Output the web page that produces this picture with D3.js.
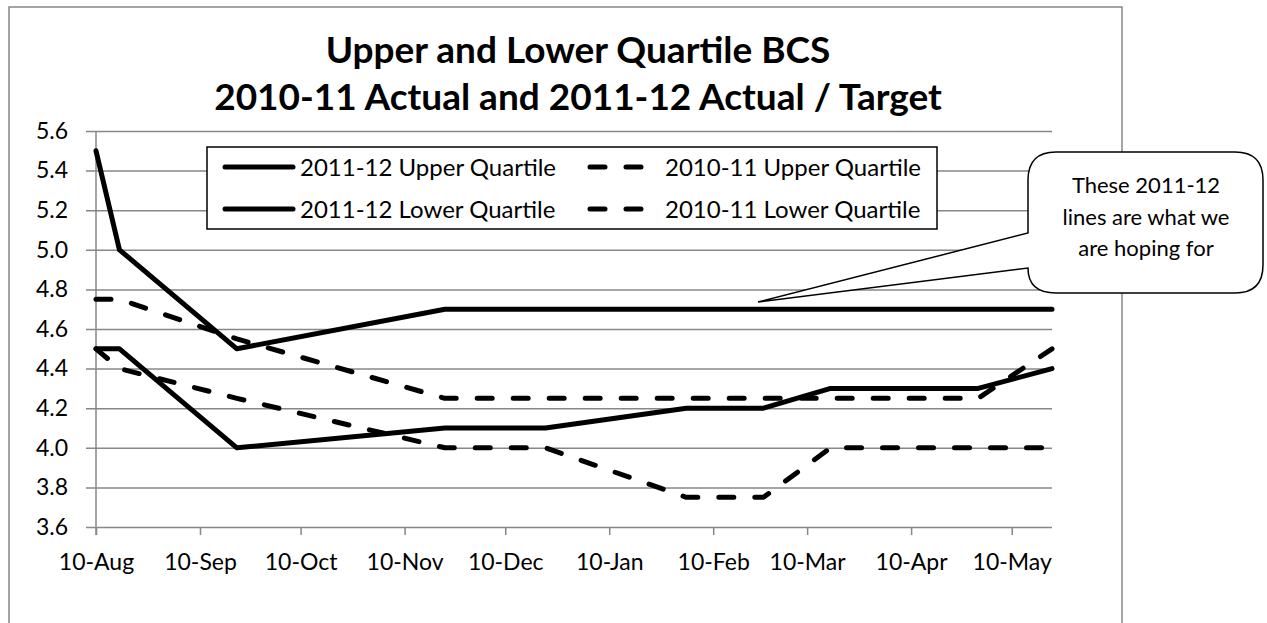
<!DOCTYPE html>
<html>
<head>
<meta charset="utf-8">
<script src="https://cdn.jsdelivr.net/npm/d3@7"></script>
<style>
  body { margin: 0; background: #fff; }
  svg { display: block; font-family: Lato, "Open Sans", sans-serif; }
</style>
</head>
<body>
<svg id="chart" width="1267" height="623"></svg>
<script>
// dates of the readings (dd-mmm axis, ticks on the 10th)
var dates = ["2010-08-10", "2010-08-17", "2010-09-21", "2010-11-22", "2010-12-22",
             "2011-02-02", "2011-02-25", "2011-03-17", "2011-04-30", "2011-05-22"];
var upper1112 = [5.5, 5.0, 4.5, 4.7, 4.7, 4.7, 4.7, 4.7, 4.7, 4.7];
var lower1112 = [4.5, 4.5, 4.0, 4.1, 4.1, 4.2, 4.2, 4.3, 4.3, 4.4];
var upper1011 = [4.75, 4.75, 4.55, 4.25, 4.25, 4.25, 4.25, 4.25, 4.25, 4.5];
var lower1011 = [4.5, 4.4, 4.25, 4.0, 4.0, 3.75, 3.75, 4.0, 4.0, 4.0];
var seriesNames = ["2011-12 Upper Quartile", "2010-11 Upper Quartile",
                   "2011-12 Lower Quartile", "2010-11 Lower Quartile"];
var tickDates = ["2010-08-10", "2010-09-10", "2010-10-10", "2010-11-10", "2010-12-10",
                 "2011-01-10", "2011-02-10", "2011-03-10", "2011-04-10", "2011-05-10"];
var titleLines = ["Upper and Lower Quartile BCS", "2010-11 Actual and 2011-12 Actual / Target"];
var calloutLines = ["These 2011-12", "lines are what we", "are hoping for"];

var parse = d3.timeParse("%Y-%m-%d");
var svg = d3.select("#chart");
var grey = "#878787";

var plotLeft = 96, plotRight = 1052, plotTop = 131, plotBottom = 527;

var x = d3.scaleTime()
    .domain([parse(dates[0]), parse(dates[dates.length - 1])])
    .range([plotLeft, plotRight]);
var y = d3.scaleLinear()
    .domain([3.6, 5.6])
    .range([plotBottom, plotTop]);

// chart frame
svg.append("rect")
    .attr("x", 9).attr("y", 7)
    .attr("width", 1113).attr("height", 640)
    .attr("fill", "#fff")
    .attr("stroke", grey)
    .attr("stroke-width", 1.5);

// title
svg.append("g").selectAll("text")
    .data(titleLines)
    .enter().append("text")
    .attr("x", 578)
    .attr("y", function (d, i) { return 63 + i * 47; })
    .attr("text-anchor", "middle")
    .style("font-size", "37px")
    .style("font-weight", "700")
    .text(function (d) { return d; });

// y axis with gridlines
var yAxis = svg.append("g")
    .attr("transform", "translate(" + plotLeft + ",0)")
    .call(d3.axisLeft(y)
        .tickValues(d3.range(3.6, 5.61, 0.2))
        .tickSize(-(plotRight - plotLeft))
        .tickFormat(d3.format(".1f")));
yAxis.select(".domain").remove();
yAxis.selectAll(".tick line")
    .attr("x1", -10)
    .attr("stroke", grey)
    .attr("stroke-width", 1.5);
yAxis.selectAll(".tick text")
    .attr("x", -28)
    .attr("fill", "#000")
    .style("font-size", "23px")
    .style("font-family", "Lato");

svg.append("line")
    .attr("x1", plotLeft).attr("x2", plotLeft)
    .attr("y1", plotTop).attr("y2", plotBottom + 8)
    .attr("stroke", grey).attr("stroke-width", 1.5);

// x axis
var xAxis = svg.append("g")
    .attr("transform", "translate(0," + plotBottom + ")")
    .call(d3.axisBottom(x)
        .tickValues(tickDates.map(parse))
        .tickSize(8)
        .tickFormat(d3.timeFormat("%d-%b")));
xAxis.select(".domain").remove();
xAxis.selectAll(".tick line")
    .attr("stroke", grey)
    .attr("stroke-width", 1.5);
xAxis.selectAll(".tick text")
    .attr("y", 27)
    .attr("fill", "#000")
    .style("font-size", "23px")
    .style("font-family", "Lato");

// lines
var series = [
    {name: seriesNames[0], values: upper1112, dash: null},
    {name: seriesNames[2], values: lower1112, dash: null},
    {name: seriesNames[1], values: upper1011, dash: "15,21"},
    {name: seriesNames[3], values: lower1011, dash: "15,21"}
];

var line = d3.line()
    .x(function (d) { return x(d.date); })
    .y(function (d) { return y(d.value); });

svg.append("g").selectAll("path")
    .data(series)
    .enter().append("path")
    .attr("d", function (s) {
        return line(s.values.map(function (v, i) {
            return {date: parse(dates[i]), value: v};
        }));
    })
    .attr("fill", "none")
    .attr("stroke", "#000")
    .attr("stroke-width", 5)
    .attr("stroke-linejoin", "round")
    .attr("stroke-linecap", "round")
    .attr("stroke-dasharray", function (s) { return s.dash; });

// legend
var legend = svg.append("g");
legend.append("rect")
    .attr("x", 207).attr("y", 147)
    .attr("width", 730).attr("height", 82)
    .attr("fill", "#fff")
    .attr("stroke", "#000")
    .attr("stroke-width", 1.5);

var legendItems = legend.selectAll("g")
    .data(seriesNames)
    .enter().append("g")
    .attr("transform", function (d, i) {
        return "translate(" + (i % 2 ? 588 : 223) + "," + (i < 2 ? 167 : 209) + ")";
    });
legendItems.append("line")
    .attr("x1", 2).attr("x2", function (d, i) { return i % 2 ? 55 : 70; })
    .attr("stroke", "#000")
    .attr("stroke-width", 5)
    .attr("stroke-linecap", "round")
    .attr("stroke-dasharray", function (d, i) { return i % 2 ? "15,21" : null; });
legendItems.append("text")
    .attr("x", 77)
    .attr("dy", "0.36em")
    .style("font-size", "24px")
    .text(function (d) { return d; });

// callout
var cx0 = 1028, cx1 = 1263, cy0 = 152, cy1 = 293, r = 28;
var tipX = 758, tipY = 302;
var callPath = d3.path();
callPath.moveTo(cx0 + r, cy0);
callPath.lineTo(cx1 - r, cy0);
callPath.quadraticCurveTo(cx1, cy0, cx1, cy0 + r);
callPath.lineTo(cx1, cy1 - r);
callPath.quadraticCurveTo(cx1, cy1, cx1 - r, cy1);
callPath.lineTo(cx0 + r, cy1);
callPath.quadraticCurveTo(cx0, cy1, cx0, cy1 - r + 3);
callPath.lineTo(tipX, tipY);
callPath.lineTo(cx0, 233);
callPath.lineTo(cx0, cy0 + r);
callPath.quadraticCurveTo(cx0, cy0, cx0 + r, cy0);
callPath.closePath();
svg.append("path")
    .attr("d", callPath.toString())
    .attr("fill", "#fff")
    .attr("stroke", "#000")
    .attr("stroke-width", 1.5);

svg.append("g").selectAll("text")
    .data(calloutLines)
    .enter().append("text")
    .attr("x", 1146)
    .attr("y", function (d, i) { return 185 + i * 31.7; })
    .attr("dy", "0.36em")
    .attr("text-anchor", "middle")
    .style("font-size", "22px")
    .text(function (d) { return d; });
</script>
</body>
</html>
